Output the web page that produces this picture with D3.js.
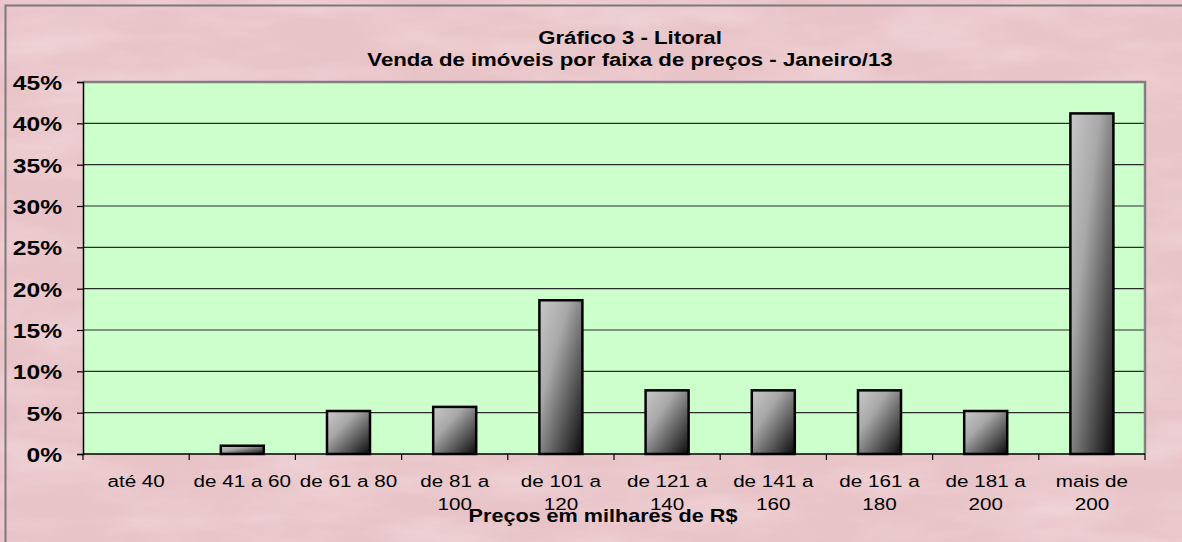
<!DOCTYPE html>
<html>
<head>
<meta charset="utf-8">
<script src="https://cdn.jsdelivr.net/npm/d3@7"></script>
<style>
  body { margin: 0; background: #fff; }
  svg { display: block; font-family: Arial, "Liberation Sans", sans-serif; }
</style>
</head>
<body>
<svg width="1182" height="542"></svg>
<script>
const categories = ["até 40", "de 41 a 60", "de 61 a 80", "de 81 a 100", "de 101 a 120",
  "de 121 a 140", "de 141 a 160", "de 161 a 180", "de 181 a 200", "mais de 200"];
// labels as they wrap on the axis
const labelLines = [["até 40"], ["de 41 a 60"], ["de 61 a 80"], ["de 81 a", "100"], ["de 101 a", "120"],
  ["de 121 a", "140"], ["de 141 a", "160"], ["de 161 a", "180"], ["de 181 a", "200"], ["mais de", "200"]];
const values = [0, 1.0, 5.2, 5.7, 18.6, 7.7, 7.7, 7.7, 5.2, 41.2];
const yTicks = [0, 5, 10, 15, 20, 25, 30, 35, 40, 45];
const titleLines = ["Gráfico 3 - Litoral", "Venda de imóveis por faixa de preços - Janeiro/13"];
const xTitle = "Preços em milhares de R$";

const svg = d3.select("svg");
const width = +svg.attr("width");
const height = +svg.attr("height");
const margin = {top: 82, right: 37, bottom: 88, left: 83};
const innerWidth = width - margin.left - margin.right;
const innerHeight = height - margin.top - margin.bottom;
const stretch = 1.2; // the original chart is a bit wider than tall

const defs = svg.append("defs");

// mottled pink background
const filt = defs.append("filter").attr("id", "marble")
  .attr("x", 0).attr("y", 0).attr("width", "100%").attr("height", "100%");
filt.append("feTurbulence").attr("type", "fractalNoise")
  .attr("baseFrequency", "0.008 0.03").attr("numOctaves", 5).attr("seed", 3).attr("result", "noise");
filt.append("feColorMatrix").attr("in", "noise").attr("type", "matrix")
  .attr("values", "0 0 0 0 0.98  0 0 0 0 0.86  0 0 0 0 0.88  0 0 0 1.0 -0.38")
  .attr("result", "light");
filt.append("feComposite").attr("in", "light").attr("in2", "SourceGraphic").attr("operator", "in");

const filt2 = defs.append("filter").attr("id", "marble2")
  .attr("x", 0).attr("y", 0).attr("width", "100%").attr("height", "100%");
filt2.append("feTurbulence").attr("type", "fractalNoise")
  .attr("baseFrequency", "0.02 0.01").attr("numOctaves", 4).attr("seed", 11).attr("result", "noise");
filt2.append("feColorMatrix").attr("in", "noise").attr("type", "matrix")
  .attr("values", "0 0 0 0 0.75  0 0 0 0 0.62  0 0 0 0 0.66  0 0 0 0.9 -0.36")
  .attr("result", "dark");
filt2.append("feComposite").attr("in", "dark").attr("in2", "SourceGraphic").attr("operator", "in");

const grad = defs.append("linearGradient").attr("id", "barGrad")
  .attr("x1", "0%").attr("y1", "0%").attr("x2", "100%").attr("y2", "100%");
grad.append("stop").attr("offset", "0%").attr("stop-color", "#c8c8c8");
grad.append("stop").attr("offset", "35%").attr("stop-color", "#a8a8a8");
grad.append("stop").attr("offset", "100%").attr("stop-color", "#0a0a0a");

svg.append("rect").attr("width", width).attr("height", height).attr("fill", "#e8c3c7");
svg.append("rect").attr("width", width).attr("height", height).attr("fill", "#fff")
  .attr("filter", "url(#marble2)").attr("opacity", 0.45);
svg.append("rect").attr("width", width).attr("height", height).attr("fill", "#fff")
  .attr("filter", "url(#marble)").attr("opacity", 0.7);

// outer chart frame (left and top edges visible)
svg.append("path").attr("d", `M5.5,${height} V5.5 H${width}`)
  .attr("fill", "none").attr("stroke", "#7a7a7a").attr("stroke-width", 2);

const g = svg.append("g").attr("transform", `translate(${margin.left},${margin.top})`);

const x = d3.scaleBand().domain(categories).range([0, innerWidth]).paddingInner(0.595).paddingOuter(0.2975);
const xCat = d3.scaleBand().domain(categories).range([0, innerWidth]);
const y = d3.scaleLinear().domain([0, 45]).range([innerHeight, 0]);

g.append("rect").attr("width", innerWidth).attr("height", innerHeight).attr("fill", "#ccffcc");

// gridlines
g.selectAll(".grid").data(yTicks.filter(t => t > 0 && t < 45)).enter()
  .append("line").attr("class", "grid")
  .attr("x1", 0).attr("x2", innerWidth)
  .attr("y1", d => y(d)).attr("y2", d => y(d))
  .attr("stroke", "#2a2a2a").attr("stroke-width", 1.2);

// plot border top/right
g.append("path").attr("d", `M0,0 H${innerWidth} V${innerHeight}`)
  .attr("fill", "none").attr("stroke", "#808080").attr("stroke-width", 2.5);

// bars
g.selectAll(".bar").data(values).enter()
  .append("rect").attr("class", "bar")
  .attr("x", (d, i) => x(categories[i]))
  .attr("width", x.bandwidth())
  .attr("y", d => y(d))
  .attr("height", d => innerHeight - y(d))
  .attr("fill", "url(#barGrad)")
  .attr("stroke", d => d > 0 ? "#000" : "none")
  .attr("stroke-width", 2.5);

// y axis
const yAxis = d3.axisLeft(y).tickValues(yTicks).tickFormat(d => d + "%").tickSize(6).tickPadding(14);
const yAxisG = g.append("g").call(yAxis);
yAxisG.select(".domain").attr("stroke", "#000").attr("stroke-width", 1.5);
yAxisG.selectAll(".tick line").attr("stroke", "#000").attr("stroke-width", 1.2);
yAxisG.selectAll(".tick text")
  .attr("x", 0).attr("dy", "0.36em")
  .attr("transform", `translate(-21,0) scale(${stretch},1)`)
  .attr("fill", "#000").style("font-size", "20.5px").style("font-weight", "bold");

// x axis (ticks between categories)
const xAxisG = g.append("g").attr("transform", `translate(0,${innerHeight})`);
xAxisG.append("line").attr("x1", 0).attr("x2", innerWidth)
  .attr("stroke", "#000").attr("stroke-width", 1.5);
xAxisG.selectAll(".xtick").data(d3.range(categories.length + 1)).enter()
  .append("line").attr("class", "xtick")
  .attr("x1", i => i * xCat.bandwidth()).attr("x2", i => i * xCat.bandwidth())
  .attr("y1", 0).attr("y2", 6)
  .attr("stroke", "#000").attr("stroke-width", 1.2);

const labels = xAxisG.selectAll(".xlab").data(categories).enter()
  .append("text").attr("class", "xlab")
  .attr("text-anchor", "middle")
  .attr("transform", d => `translate(${xCat(d) + xCat.bandwidth() / 2},33) scale(${stretch},1)`)
  .style("font-size", "17.2px").attr("fill", "#000");
labels.each(function(d, i) {
  const t = d3.select(this);
  labelLines[i].forEach((line, j) => {
    t.append("tspan").attr("x", 0).attr("dy", j === 0 ? 0 : 23).text(line);
  });
});

// axis title
svg.append("text")
  .attr("transform", `translate(603,522) scale(${stretch},1)`)
  .attr("text-anchor", "middle").style("font-size", "18px").style("font-weight", "bold")
  .text(xTitle);

// chart title
svg.selectAll(".title").data(titleLines).enter()
  .append("text").attr("class", "title")
  .attr("transform", (d, i) => `translate(630,${44 + i * 22}) scale(${stretch},1)`)
  .attr("text-anchor", "middle").style("font-size", "18.5px").style("font-weight", "bold")
  .text(d => d);
</script>
</body>
</html>
